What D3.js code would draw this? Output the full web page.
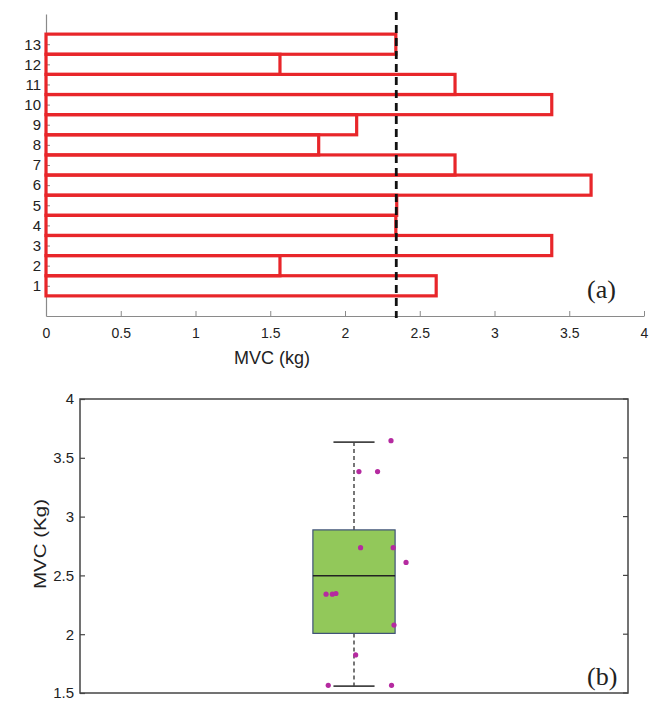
<!DOCTYPE html>
<html>
<head>
<meta charset="utf-8">
<script src="https://cdn.jsdelivr.net/npm/d3@7"></script>
<style>
  body { margin: 0; background: #fff; }
  svg { display: block; }
  text { font-family: "Liberation Sans", Arial, sans-serif; fill: #222; }
</style>
</head>
<body>
<svg id="chart" width="665" height="721"></svg>
<script>
// ---- Data ----
const subjects = [1,2,3,4,5,6,7,8,9,10,11,12,13];
const mvcValues = [2.61, 1.565, 3.383, 2.34, 2.346, 3.646, 2.736, 1.824, 2.078, 3.383, 2.736, 1.565, 2.34];
const medianLine = 2.343;
const xTicksA = [0, 0.5, 1, 1.5, 2, 2.5, 3, 3.5, 4];
const yTicksB = [1.5, 2, 2.5, 3, 3.5, 4];
// box plot summary (as drawn)
const boxStats = { lowerWhisker: 1.558, q1: 2.007, median: 2.497, q3: 2.887, upperWhisker: 3.634 };
// scatter points (value, jittered group position)
const pointValues = [3.646, 3.383, 3.383, 2.736, 2.736, 2.61, 2.34, 2.34, 2.346, 2.078, 1.824, 1.565, 1.565];
const pointJitter = [1.135, 1.018, 1.086, 1.024, 1.143, 1.19, 0.898, 0.921, 0.934, 1.146, 1.006, 0.906, 1.137];

const svg = d3.select("#chart");
const sans = "Liberation Sans, Arial, sans-serif";
const serif = "Liberation Serif, 'Times New Roman', serif";

// ---------------- Panel (a) ----------------
const xA = d3.scaleLinear().domain([0, 4]).range([46, 644]);
const yA = d3.scaleLinear().domain([-0.5, 14.5]).range([316, 14]);
const gA = svg.append("g");

const axisColor = "#8a8a8a";
const xAxisA = d3.axisBottom(xA).tickValues(xTicksA).tickSize(0).tickPadding(0).tickFormat(d3.format("~g"));
const gxA = gA.append("g").attr("transform", "translate(0,316)").call(xAxisA);
gxA.select(".domain").attr("stroke", axisColor).attr("stroke-width", 1.2);
gxA.selectAll(".tick line").remove();
gxA.selectAll(".tick").append("line").attr("y1", 0).attr("y2", -5).attr("stroke", axisColor).attr("stroke-width", 1);
gxA.selectAll(".tick text").attr("y", 22).attr("dy", 0).style("font-size", "14px").style("font-family", sans).attr("fill", "#222");

const yAxisA = d3.axisLeft(yA).tickValues(subjects).tickSize(0).tickPadding(5);
const gyA = gA.append("g").attr("transform", "translate(46,0)").call(yAxisA);
gyA.select(".domain").attr("stroke", axisColor).attr("stroke-width", 1.2);
gyA.selectAll(".tick line").remove();
gyA.selectAll(".tick").append("line").attr("x1", 0).attr("x2", 4).attr("stroke", axisColor).attr("stroke-width", 1);
gyA.selectAll(".tick text").style("font-size", "15px").style("font-family", sans).attr("fill", "#222");

// bars
gA.append("g").selectAll("rect").data(subjects).join("rect")
  .attr("x", xA(0))
  .attr("y", d => yA(d + 0.5))
  .attr("width", (d, i) => xA(mvcValues[i]) - xA(0))
  .attr("height", d => yA(d - 0.5) - yA(d + 0.5))
  .attr("fill", "none")
  .attr("stroke", "#e8262a")
  .attr("stroke-width", 3.2);

// median dashed line
gA.append("line")
  .attr("x1", xA(medianLine)).attr("x2", xA(medianLine))
  .attr("y1", 12).attr("y2", 318)
  .attr("stroke", "#111").attr("stroke-width", 2.8)
  .attr("stroke-dasharray", "8,5");

gA.append("text").attr("x", 272).attr("y", 364).attr("text-anchor", "middle")
  .style("font-size", "18px").text("MVC (kg)");

gA.append("text").attr("x", 587).attr("y", 298)
  .style("font-family", serif).style("font-size", "26px").attr("fill", "#111").text("(a)");

// ---------------- Panel (b) ----------------
const xB = d3.scaleLinear().domain([0, 2]).range([80, 628]);
const yB = d3.scaleLinear().domain([1.5, 4]).range([693, 399]);
const gB = svg.append("g");

const frameColor = "#444";
const yAxisB = d3.axisLeft(yB).tickValues(yTicksB).tickSize(0).tickPadding(6).tickFormat(d3.format("~g"));
const gyB = gB.append("g").attr("transform", "translate(80,0)").call(yAxisB);
gyB.select(".domain").remove();
gyB.selectAll(".tick line").remove();
gyB.selectAll(".tick").append("line").attr("x1", 0).attr("x2", 5).attr("stroke", frameColor).attr("stroke-width", 1.2);
gyB.selectAll(".tick text").style("font-size", "15px").style("font-family", sans).attr("fill", "#222");

gB.append("g").selectAll("line").data(yTicksB).join("line")
  .attr("x1", 628).attr("x2", 623)
  .attr("y1", d => yB(d)).attr("y2", d => yB(d))
  .attr("stroke", frameColor).attr("stroke-width", 1.2);

// whiskers
const cx = xB(1);
gB.append("line").attr("x1", cx).attr("x2", cx)
  .attr("y1", yB(boxStats.upperWhisker)).attr("y2", yB(boxStats.q3))
  .attr("stroke", "#555").attr("stroke-width", 1.6).attr("stroke-dasharray", "4,3");
gB.append("line").attr("x1", cx).attr("x2", cx)
  .attr("y1", yB(boxStats.q1)).attr("y2", yB(boxStats.lowerWhisker))
  .attr("stroke", "#555").attr("stroke-width", 1.6).attr("stroke-dasharray", "4,3");
[boxStats.upperWhisker, boxStats.lowerWhisker].forEach(v => {
  gB.append("line").attr("x1", xB(0.925)).attr("x2", xB(1.075))
    .attr("y1", yB(v)).attr("y2", yB(v))
    .attr("stroke", "#444").attr("stroke-width", 1.8);
});

// box
gB.append("rect")
  .attr("x", xB(0.85)).attr("width", xB(1.15) - xB(0.85))
  .attr("y", yB(boxStats.q3)).attr("height", yB(boxStats.q1) - yB(boxStats.q3))
  .attr("fill", "#92c85a").attr("stroke", "#3e5078").attr("stroke-width", 1.2);
gB.append("line").attr("x1", xB(0.85)).attr("x2", xB(1.15))
  .attr("y1", yB(boxStats.median)).attr("y2", yB(boxStats.median))
  .attr("stroke", "#222").attr("stroke-width", 1.6);

// points
gB.append("g").selectAll("circle").data(pointValues).join("circle")
  .attr("cx", (d, i) => xB(pointJitter[i]))
  .attr("cy", d => yB(d))
  .attr("r", 2.6)
  .attr("fill", "#b52aa0");

// frame
gB.append("rect").attr("x", 80).attr("y", 399).attr("width", 548).attr("height", 294)
  .attr("fill", "none").attr("stroke", frameColor).attr("stroke-width", 1.5);

gB.append("text").attr("transform", "translate(46,544) rotate(-90)").attr("text-anchor", "middle")
  .attr("textLength", 90).attr("lengthAdjust", "spacingAndGlyphs")
  .style("font-size", "16px").text("MVC (Kg)");

gB.append("text").attr("x", 587).attr("y", 685)
  .style("font-family", serif).style("font-size", "26px").attr("fill", "#111").text("(b)");
</script>
</body>
</html>
